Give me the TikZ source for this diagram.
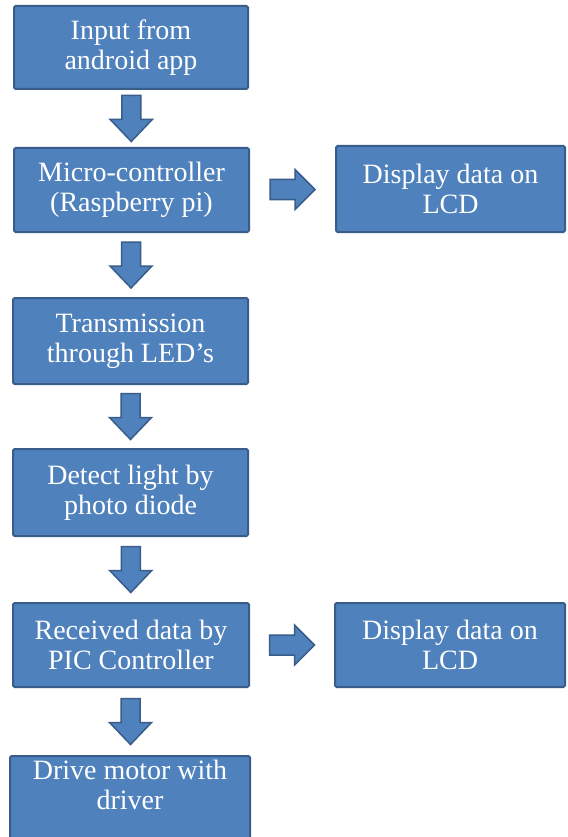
\documentclass[tikz,border=0pt]{standalone}
\usepackage{fontspec}
\setmainfont{Liberation Serif}
\usetikzlibrary{calc}
\definecolor{boxfill}{HTML}{4F81BD}
\definecolor{boxline}{HTML}{385D8A}
\tikzset{
  flowtext/.style={text=white, align=center, font=\fontsize{28}{30}\selectfont},
  flowbox/.style={flowtext, draw=boxline, line width=2pt, fill=boxfill, rounded corners=1.5pt, inner sep=0pt},
  blockarr/.style={draw=boxline, line width=1.5pt, fill=boxfill, line join=miter},
}
\newcommand{\flowdown}[2]{%
  \path[blockarr] let \p1=($(#1.south)!0.5!(#2.north)$) in
    (\x1-9.5pt,\y1+23pt) -- (\x1+9.5pt,\y1+23pt) -- (\x1+9.5pt,\y1-1pt) -- (\x1+21pt,\y1-1pt)
    -- (\x1,\y1-23pt) -- (\x1-21pt,\y1-1pt) -- (\x1-9.5pt,\y1-1pt) -- cycle;}
\newcommand{\flowright}[2]{%
  \path[blockarr] let \p1=($(#1.east)!0.5!(#2.west)$) in
    (\x1-22.5pt,\y1+10pt) -- (\x1+2.5pt,\y1+10pt) -- (\x1+2.5pt,\y1+20pt) -- (\x1+22.5pt,\y1)
    -- (\x1+2.5pt,\y1-20pt) -- (\x1+2.5pt,\y1-10pt) -- (\x1-22.5pt,\y1-10pt) -- cycle;}
\begin{document}
\begin{tikzpicture}[x=1pt,y=1pt]
\useasboundingbox (0,0) rectangle (567,-837);
\fill[white] (0,0) rectangle (567,-837);
\node[flowbox, minimum width=234, minimum height=83] (b1) at (131,-47.5) {Input from\\android app};
\node[flowbox, minimum width=235, minimum height=84] (b2) at (131.5,-190) {Micro-controller\\(Raspberry pi)};
\node[flowbox, minimum width=229, minimum height=86] (r1) at (450.5,-189) {Display data on\\LCD};
\node[flowbox, minimum width=235, minimum height=86] (b3) at (130.5,-341) {Transmission\\through LED’s};
\node[flowbox, minimum width=235, minimum height=87] (b4) at (130.5,-492.5) {Detect light by\\photo diode};
\node[flowbox, minimum width=236, minimum height=84] (b5) at (131,-645) {Received data by\\PIC Controller};
\node[flowbox, minimum width=230, minimum height=84] (r2) at (450,-645) {Display data on\\LCD};
\node[flowbox, minimum width=240, minimum height=130, anchor=north] (b6) at (130,-755) {};
\node[flowtext] (b6t) at (130,-785) {Drive motor with\\driver};
\flowdown{b1}{b2}
\flowdown{b2}{b3}
\flowdown{b3}{b4}
\flowdown{b4}{b5}
\flowdown{b5}{b6}
\flowright{b2}{r1}
\flowright{b5}{r2}
\end{tikzpicture}
\end{document}
